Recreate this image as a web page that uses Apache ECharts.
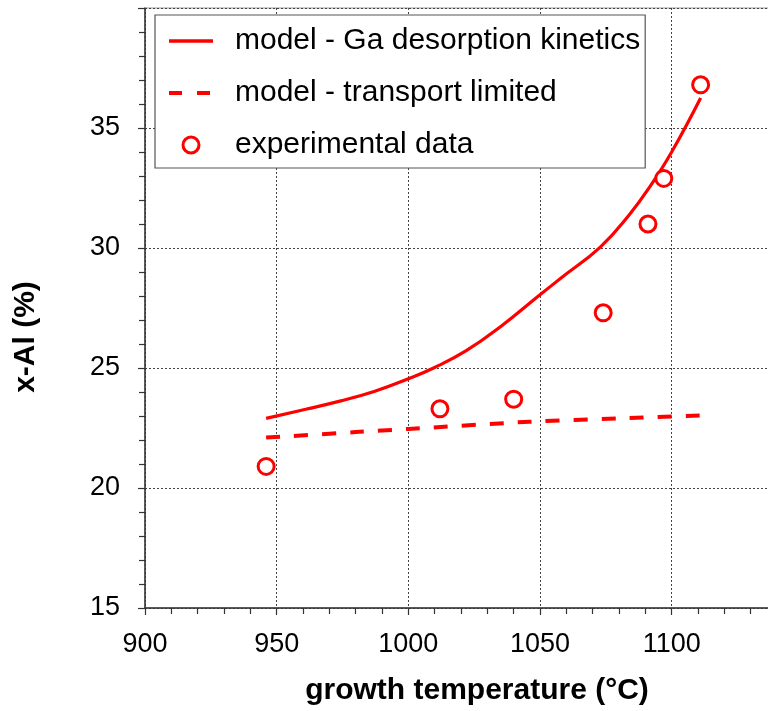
<!DOCTYPE html>
<html>
<head>
<meta charset="utf-8">
<script src="https://cdn.jsdelivr.net/npm/echarts@6/dist/echarts.min.js"></script>
<style>
  html, body { margin: 0; padding: 0; background: #fff; overflow: hidden; }
  #wrap { width: 768px; height: 711px; overflow: hidden; }
  /* the plot frame runs past the right edge, so the canvas is a little wider than the page */
  #chart { width: 780px; height: 711px; }
</style>
</head>
<body>
<div id="wrap"><div id="chart"></div></div>
<script>
// Growth temperature (°C) vs. Al content x-Al (%)
const desorptionTemp = [946, 961, 974, 987, 1000, 1010, 1022, 1035, 1050, 1058, 1073, 1084, 1092, 1100, 1111];
const desorptionAl   = [22.9, 23.28, 23.62, 24.02, 24.55, 25.02, 25.72, 26.72, 28.05, 28.75, 30.05, 31.4, 32.6, 34.0, 36.25];

const transportTemp = [946, 980, 1000, 1046, 1080, 1111];
const transportAl   = [22.1, 22.33, 22.46, 22.76, 22.9, 23.02];

const expTemp = [946, 1012, 1040, 1074, 1091, 1097, 1111];
const expAl   = [20.9, 23.3, 23.7, 27.3, 31.0, 32.9, 36.8];

const yTickLabels = ['15', '20', '25', '30', '35'];
const xTickLabels = ['900', '950', '1000', '1050', '1100'];

const seriesNames = ['model - Ga desorption kinetics', 'model - transport limited', 'experimental data'];

const RED = '#ff0000';
const FONT = 'Liberation Sans, Arial, sans-serif';

const pairs = (xs, ys) => xs.map((x, i) => [x, ys[i]]);
const hiddenMarker = { color: 'transparent', borderColor: 'transparent', borderWidth: 0, opacity: 0 };

const chart = echarts.init(document.getElementById('chart'), null, { renderer: 'canvas' });

chart.setOption({
  animation: false,
  backgroundColor: '#fff',
  textStyle: { fontFamily: FONT },
  grid: {
    left: 145, top: 8, width: 632, height: 600,
    show: true, borderColor: '#999', borderWidth: 1, backgroundColor: 'transparent'
  },
  legend: {
    orient: 'vertical',
    left: 155, top: 15,
    data: [
      { name: seriesNames[0], itemStyle: hiddenMarker, lineStyle: { color: RED, width: 3.3, type: 'solid' } },
      { name: seriesNames[1], itemStyle: hiddenMarker, lineStyle: { color: RED, width: 4, type: [13, 15] } },
      { name: seriesNames[2], icon: 'circle', itemStyle: { color: '#fff', borderColor: RED, borderWidth: 3 } }
    ],
    itemWidth: 44, itemHeight: 16, itemGap: 22,
    padding: [11, 5, 8, 12],
    borderColor: '#555', borderWidth: 1.2,
    backgroundColor: '#fff',
    textStyle: { fontSize: 30, color: '#000', fontFamily: FONT, padding: [0, 0, 0, 17], lineHeight: 29 }
  },
  xAxis: {
    type: 'value', min: 900, max: 1140, interval: 50,
    name: 'growth temperature (°C)', nameLocation: 'middle', nameGap: 68,
    nameTextStyle: { fontSize: 30, fontWeight: 'bold', color: '#000', fontFamily: FONT, padding: [0, 0, 0, 32] },
    axisLine: { onZero: false, lineStyle: { color: '#333', width: 1.5 } },
    axisTick: { show: true, inside: false, length: 7, lineStyle: { color: '#333', width: 1.2 } },
    minorTick: { show: true, splitNumber: 5, length: 6, lineStyle: { color: '#333', width: 1.2 } },
    axisLabel: {
      fontSize: 27, color: '#000', margin: 23,
      formatter: v => xTickLabels.includes(String(v)) ? String(v) : ''
    },
    splitLine: { show: true, lineStyle: { color: '#444', type: [2, 2], width: 1 } }
  },
  yAxis: {
    type: 'value', min: 15, max: 40, interval: 5,
    name: 'x-Al (%)', nameLocation: 'middle', nameGap: 104, nameRotate: 90,
    nameTextStyle: { fontSize: 30, fontWeight: 'bold', color: '#000', fontFamily: FONT, padding: [0, 58, 0, 0] },
    axisLine: { onZero: false, lineStyle: { color: '#333', width: 1.5 } },
    axisTick: { show: true, inside: false, length: 7, lineStyle: { color: '#333', width: 1.2 } },
    minorTick: { show: true, splitNumber: 5, length: 6, lineStyle: { color: '#333', width: 1.2 } },
    axisLabel: {
      fontSize: 27, color: '#000', margin: 25,
      formatter: v => yTickLabels.includes(String(v)) ? String(v) : ''
    },
    splitLine: { show: true, lineStyle: { color: '#444', type: [2, 2], width: 1 } }
  },
  series: [
    {
      name: seriesNames[0], type: 'line', smooth: 0.45, symbol: 'none',
      data: pairs(desorptionTemp, desorptionAl),
      lineStyle: { color: RED, width: 3.2 }, itemStyle: { color: RED }, z: 3
    },
    {
      name: seriesNames[1], type: 'line', smooth: 0.3, symbol: 'none',
      data: pairs(transportTemp, transportAl),
      lineStyle: { color: RED, width: 4, type: [14, 14] }, itemStyle: { color: RED }, z: 3
    },
    {
      name: seriesNames[2], type: 'scatter', symbol: 'circle', symbolSize: 16,
      data: pairs(expTemp, expAl),
      itemStyle: { color: '#fff', borderColor: RED, borderWidth: 3, opacity: 1 }, z: 4
    }
  ]
});
</script>
</body>
</html>
